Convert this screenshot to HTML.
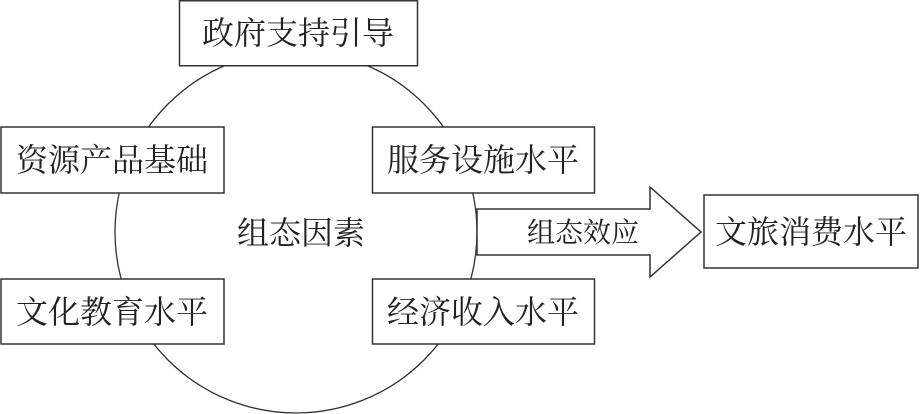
<!DOCTYPE html>
<html><head><meta charset="utf-8"><style>
html,body{margin:0;padding:0;background:#fff;}
svg{display:block}
text{font-family:"Liberation Serif","Noto Serif CJK SC",serif;fill:#222;}
</style></head><body>
<svg width="920" height="414" viewBox="0 0 920 414" xmlns="http://www.w3.org/2000/svg">
<circle cx="296" cy="232" r="181" fill="none" stroke="#333" stroke-width="1.3"/>
<g fill="#fff" stroke="#333" stroke-width="1.5">
<rect x="179.5" y="0.75" width="238" height="65"/>
<rect x="1" y="127" width="223" height="66"/>
<rect x="1" y="279" width="223" height="65"/>
<rect x="372.5" y="127" width="222" height="66"/>
<rect x="372.5" y="279" width="222" height="65"/>
<rect x="704" y="195" width="214" height="73"/>
<polygon points="477,209 650,209 650,187 701,232 650,277 650,255 477,255"/>
</g>
<g font-size="32" text-anchor="middle">
<text x="298" y="44">政府支持引导</text>
<text x="112" y="171">资源产品基础</text>
<text x="112" y="323">文化教育水平</text>
<text x="483" y="171">服务设施水平</text>
<text x="483" y="323">经济收入水平</text>
<text x="811" y="243">文旅消费水平</text>
<text x="301" y="244">组态因素</text>
</g>
<text x="583" y="242" font-size="28" text-anchor="middle">组态效应</text>
</svg>
</body></html>
